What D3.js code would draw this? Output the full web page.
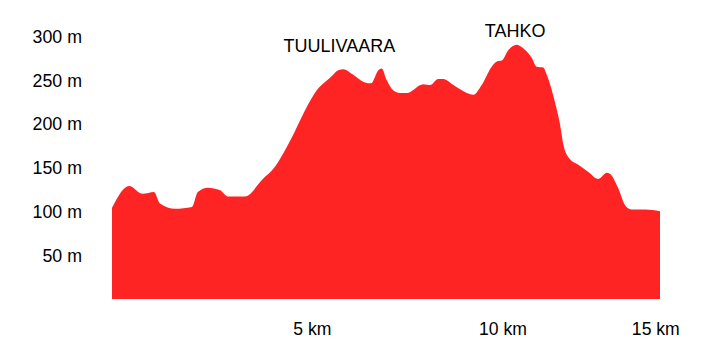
<!DOCTYPE html>
<html>
<head>
<meta charset="utf-8">
<script src="https://cdn.jsdelivr.net/npm/d3@7"></script>
<style>
  html, body { margin: 0; padding: 0; background: #fff; }
  svg { display: block; }
  text { font-family: "Liberation Sans", Arial, sans-serif; fill: #000; }
</style>
</head>
<body>
<svg id="chart" width="715" height="355"></svg>
<script>
// Distance along the route (km)
const distanceKm = [0, 0.46, 0.83, 1.13, 1.29, 1.70, 2.15, 2.31, 2.58, 2.91, 3.12, 3.58, 4.04, 4.39, 4.66, 4.85, 5.11, 5.46, 5.91, 6.09, 6.23, 6.45, 6.81, 6.97, 7.17, 7.26, 7.39, 7.57, 7.75, 7.93, 8.38, 8.56, 8.78, 8.92, 9.19, 9.55, 9.73, 9.95, 10.22, 10.36, 10.49, 10.67, 10.89, 11.12, 11.30, 11.43, 11.61, 11.70, 11.92, 12.06, 12.15, 12.28, 12.55, 12.82, 13.09, 13.32, 13.40, 13.63, 13.81, 13.99, 14.35, 14.75];
// Elevation (m)
const elevationM = [104, 129, 120, 122, 109, 103, 105, 122, 127, 124, 117, 117, 136, 151, 170, 185, 208, 235, 254, 261, 262, 257, 247, 246, 261, 263, 250, 238, 235, 235, 245, 244, 251, 251, 244, 235, 233, 244, 265, 271, 272, 284, 290, 284, 275, 265, 264, 256, 225, 199, 176, 162, 153, 145, 137, 144, 143, 126, 107, 102, 102, 100];
// Axis ticks
const yTicks = [50, 100, 150, 200, 250, 300];
const xTicks = [5, 10, 15];
// Place names
const placeNames = ["TUULIVAARA", "TAHKO"];
const placeKm = [6.12, 10.85];
const placeElev = [282, 299];

const svg = d3.select("#chart");
const x = d3.scaleLinear().domain([0, 14.75]).range([112, 660]);
const y = d3.scaleLinear().domain([0, 300]).range([299, 36]);

const data = distanceKm.map((d, i) => ({ km: d, m: elevationM[i] }));

const area = d3.area()
  .x(d => x(d.km))
  .y0(y(0))
  .y1(d => y(d.m))
  .curve(d3.curveMonotoneX);

svg.append("path")
  .datum(data)
  .attr("d", area)
  .attr("fill", "#FF2424");

// Y axis labels
const yAxis = d3.axisLeft(y).tickValues(yTicks).tickSize(0).tickPadding(0)
  .tickFormat(d => d + " m");
const gy = svg.append("g").attr("transform", "translate(82,0)").call(yAxis);
gy.select(".domain").remove();
gy.selectAll("text").attr("font-size", 17.8).attr("font-family", "Liberation Sans, Arial, sans-serif")
  .attr("fill", "#000").attr("dy", "0.35em");

// X axis labels
const xAxis = d3.axisBottom(x).tickValues(xTicks).tickSize(0).tickPadding(0)
  .tickFormat(d => d + " km");
const gx = svg.append("g").attr("transform", "translate(0,335)").call(xAxis);
gx.select(".domain").remove();
gx.selectAll("text")
  .attr("font-size", 17.6).attr("font-family", "Liberation Sans, Arial, sans-serif").attr("fill", "#000")
  .attr("y", 0).attr("dy", 0)
  .attr("text-anchor", (d, i) => i === xTicks.length - 1 ? "end" : "start")
  .attr("x", (d, i) => i === xTicks.length - 1 ? 10 : -5);

// Place name labels
svg.selectAll(".place")
  .data(placeNames)
  .join("text")
  .attr("class", "place")
  .attr("x", (d, i) => x(placeKm[i]))
  .attr("y", (d, i) => y(placeElev[i]))
  .attr("text-anchor", "middle")
  .attr("font-size", 18)
  .text(d => d);
</script>
</body>
</html>
